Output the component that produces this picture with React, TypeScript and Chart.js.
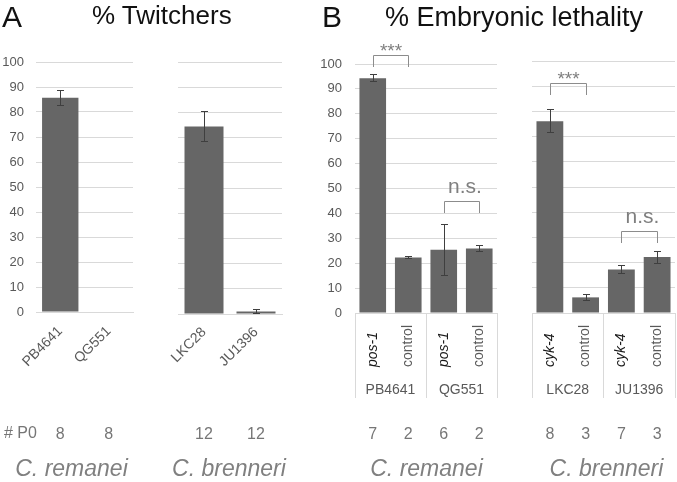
import React, { useEffect, useRef } from 'react';
import { Chart, registerables } from 'chart.js';

Chart.register(...registerables);

// ---------- data ----------
const twitchStrainsRemanei = ['PB4641', 'QG551'];
const twitchValuesRemanei = [85.7, 0];
const twitchErrorsRemanei = [3.3, 0];
const twitchP0Remanei = [8, 8];

const twitchStrainsBrenneri = ['LKC28', 'JU1396'];
const twitchValuesBrenneri = [74.4, 1.0];
const twitchErrorsBrenneri = [6.2, 1.0];
const twitchP0Brenneri = [12, 12];

const lethalTreatmentsRemanei = ['pos-1', 'control', 'pos-1', 'control'];
const lethalStrainsRemanei = ['PB4641', 'QG551'];
const lethalValuesRemanei = [94.3, 22.3, 25.4, 25.9];
const lethalErrorsRemanei = [1.7, 0.7, 10.4, 1.3];
const lethalP0Remanei = [7, 2, 6, 2];

const lethalTreatmentsBrenneri = ['cyk-4', 'control', 'cyk-4', 'control'];
const lethalStrainsBrenneri = ['LKC28', 'JU1396'];
const lethalValuesBrenneri = [76.1, 6.2, 17.3, 22.2];
const lethalErrorsBrenneri = [4.8, 1.4, 1.8, 2.6];
const lethalP0Brenneri = [8, 3, 7, 3];

const yMin = 0;
const yMax = 100;
const yStep = 10;

// significance annotations: bar indices, label, bracket level (in % units)
const sigRemanei = [
  { from: 0, to: 1, label: '***', level: 103.8 },
  { from: 2, to: 3, label: 'n.s.', level: 44.9 },
];
const sigBrenneri = [
  { from: 0, to: 1, label: '***', level: 91.3 },
  { from: 2, to: 3, label: 'n.s.', level: 32.5 },
];

// ---------- styles ----------
const FONT = "'Liberation Sans', Arial, Helvetica, sans-serif";
const BAR = '#666666';
const GRID = '#d9d9d9';
const TICK = '#595959';
const NOTE = '#767676';
const ERR = '#3f3f3f';
const H = 482;

type Sig = { from: number; to: number; label: string; level: number };
interface PanelSpec {
  left: number;
  width: number;
  padding: { left: number; right: number; top: number; bottom: number };
  yWidth: number;
  showYLabels: boolean;
  yPad: number;
  xHeight: number;
  xPad: number;
  labels: string[];
  values: number[];
  errors: number[];
  counts: number[];
  grouped: boolean;
  strains?: string[];
  sig?: Sig[];
}

const panels: PanelSpec[] = [
  {
    left: 0, width: 140, padding: { left: 0, right: 7, top: 62, bottom: 0 },
    yWidth: 36, showYLabels: true, yPad: 12, xHeight: 170, xPad: 11,
    labels: twitchStrainsRemanei, values: twitchValuesRemanei, errors: twitchErrorsRemanei,
    counts: twitchP0Remanei, grouped: false,
  },
  {
    left: 140, width: 150, padding: { left: 38, right: 8, top: 62, bottom: 0 },
    yWidth: 0, showYLabels: false, yPad: 12, xHeight: 168, xPad: 10,
    labels: twitchStrainsBrenneri, values: twitchValuesBrenneri, errors: twitchErrorsBrenneri,
    counts: twitchP0Brenneri, grouped: false,
  },
  {
    left: 290, width: 215, padding: { left: 0, right: 8, top: 64, bottom: 0 },
    yWidth: 65, showYLabels: true, yPad: 13, xHeight: 169, xPad: 0,
    labels: lethalTreatmentsRemanei, values: lethalValuesRemanei, errors: lethalErrorsRemanei,
    counts: lethalP0Remanei, grouped: true, strains: lethalStrainsRemanei, sig: sigRemanei,
  },
  {
    left: 505, width: 172, padding: { left: 27, right: 2, top: 61, bottom: 0 },
    yWidth: 0, showYLabels: false, yPad: 12, xHeight: 169, xPad: 0,
    labels: lethalTreatmentsBrenneri, values: lethalValuesBrenneri, errors: lethalErrorsBrenneri,
    counts: lethalP0Brenneri, grouped: true, strains: lethalStrainsBrenneri, sig: sigBrenneri,
  },
];

function BarPanel({ spec }: { spec: PanelSpec }) {
  const ref = useRef<HTMLCanvasElement>(null);
  useEffect(() => {
    const canvas = ref.current;
    if (!canvas) return;

    const annot = {
      id: 'annot',
      afterDatasetsDraw(chart: any) {
        const ctx = chart.ctx;
        const meta = chart.getDatasetMeta(0);
        const y = chart.scales.y;
        ctx.save();
        ctx.strokeStyle = ERR;
        ctx.lineWidth = 1;
        meta.data.forEach((el: any, i: number) => {
          const e = spec.errors[i];
          if (!e) return;
          const x = Math.round(el.x) + 0.5;
          const yt = Math.round(y.getPixelForValue(spec.values[i] + e)) + 0.5;
          const yb = Math.round(y.getPixelForValue(Math.max(0, spec.values[i] - e))) - 0.5;
          ctx.beginPath();
          ctx.moveTo(x, yt); ctx.lineTo(x, yb);
          ctx.moveTo(x - 3.5, yt); ctx.lineTo(x + 3.5, yt);
          ctx.moveTo(x - 3.5, yb); ctx.lineTo(x + 3.5, yb);
          ctx.stroke();
        });
        ctx.restore();
      },
      afterDraw(chart: any) {
        const ctx = chart.ctx;
        const meta = chart.getDatasetMeta(0);
        const xs = chart.scales.x;
        const y = chart.scales.y;
        ctx.save();
        // counts of P0
        ctx.fillStyle = NOTE;
        ctx.font = `16px ${FONT}`;
        ctx.textAlign = 'center';
        ctx.textBaseline = 'alphabetic';
        meta.data.forEach((el: any, i: number) => {
          ctx.fillText(String(spec.counts[i]), el.x, 439);
        });
        if (spec.grouped) {
          // inner treatment labels, rotated, bottom aligned
          spec.labels.forEach((lab, i) => {
            const x = xs.getPixelForTick(i);
            const gene = lab !== 'control';
            ctx.save();
            ctx.translate(x, 367);
            ctx.rotate(-Math.PI / 2);
            ctx.textAlign = 'left';
            ctx.textBaseline = 'middle';
            ctx.font = `${gene ? 'italic ' : ''}14px ${FONT}`;
            ctx.fillStyle = gene ? '#1a1a1a' : TICK;
            ctx.fillText(lab, 0, 0);
            ctx.restore();
          });
          // strain group labels
          ctx.fillStyle = TICK;
          ctx.font = `14px ${FONT}`;
          ctx.textAlign = 'center';
          ctx.textBaseline = 'alphabetic';
          (spec.strains || []).forEach((s, g) => {
            const cx = (xs.getPixelForTick(2 * g) + xs.getPixelForTick(2 * g + 1)) / 2;
            ctx.fillText(s, cx, 394);
          });
        }
        // significance brackets
        (spec.sig || []).forEach((b) => {
          const x1 = Math.round(meta.data[b.from].x) + 0.5;
          const x2 = Math.round(meta.data[b.to].x) + 0.5;
          const yTop = Math.round(y.getPixelForValue(b.level)) + 0.5;
          const yLeg = yTop + 11.5;
          ctx.strokeStyle = '#8c8c8c';
          ctx.lineWidth = 1;
          ctx.beginPath();
          ctx.moveTo(x1, yLeg); ctx.lineTo(x1, yTop); ctx.lineTo(x2, yTop); ctx.lineTo(x2, yLeg);
          ctx.stroke();
          ctx.fillStyle = '#7f7f7f';
          ctx.textAlign = 'center';
          ctx.textBaseline = 'alphabetic';
          if (b.label === '***') {
            ctx.font = `19px ${FONT}`;
            ctx.fillText(b.label, (x1 + x2) / 2, yTop + 1);
          } else {
            ctx.font = `21px ${FONT}`;
            ctx.fillText(b.label, (x1 + x2) / 2 + 3, yTop - 9);
          }
        });
        ctx.restore();
      },
    };

    const xScale: any = spec.grouped
      ? {
          type: 'category',
          offset: true,
          grid: {
            display: true,
            offset: true,
            drawOnChartArea: false,
            drawTicks: true,
            tickLength: 85,
            color: (c: any) => (c.index === 1 || c.index === 3 ? 'rgba(0,0,0,0)' : GRID),
            tickColor: (c: any) => (c.index === 1 || c.index === 3 ? 'rgba(0,0,0,0)' : GRID),
          },
          border: { display: true, color: GRID },
          ticks: { display: false },
          afterFit: (s: any) => { s.height = spec.xHeight; },
        }
      : {
          type: 'category',
          offset: true,
          grid: { display: false, drawTicks: false },
          border: { display: true, color: GRID },
          ticks: {
            autoSkip: false,
            minRotation: 45,
            maxRotation: 45,
            padding: spec.xPad,
            color: TICK,
            font: { family: FONT, size: 14 },
          },
          afterFit: (s: any) => { s.height = spec.xHeight; },
        };

    const chart = new Chart(canvas, {
      type: 'bar',
      data: {
        labels: spec.labels,
        datasets: [
          {
            data: spec.values,
            backgroundColor: BAR,
            borderWidth: 0,
            barPercentage: 0.75,
            categoryPercentage: 1,
          },
        ],
      },
      options: {
        animation: false,
        responsive: false,
        devicePixelRatio: 1,
        layout: { padding: spec.padding },
        plugins: { legend: { display: false }, tooltip: { enabled: false } },
        scales: {
          x: xScale,
          y: {
            min: yMin,
            max: yMax,
            ticks: {
              stepSize: yStep,
              display: spec.showYLabels,
              color: TICK,
              padding: spec.yPad,
              font: { family: FONT, size: 13 },
            },
            grid: { color: GRID, drawTicks: false },
            border: { display: false },
            afterFit: (s: any) => { s.width = spec.yWidth; },
          },
        },
      },
      plugins: [annot],
    } as any);
    return () => chart.destroy();
  }, [spec]);

  return (
    <canvas
      ref={ref}
      width={spec.width}
      height={H}
      style={{ position: 'absolute', left: spec.left, top: 0, width: spec.width, height: H }}
    />
  );
}

function Txt({ x, base, size, children, color = '#111', italic = false, center = false }: any) {
  return (
    <div
      style={{
        position: 'absolute',
        left: x,
        top: base - 0.8465 * size,
        fontFamily: FONT,
        fontSize: size,
        lineHeight: 1,
        color,
        fontStyle: italic ? 'italic' : 'normal',
        whiteSpace: 'nowrap',
        transform: center ? 'translateX(-50%)' : undefined,
      }}
    >
      {children}
    </div>
  );
}

export default function App() {
  return (
    <div style={{ position: 'absolute', left: 0, top: 0, width: 677, height: H, background: '#fff', overflow: 'hidden' }}>
      {panels.map((p, i) => (
        <BarPanel key={i} spec={p} />
      ))}
      <Txt x={2} base={27} size={30}>A</Txt>
      <Txt x={92} base={24} size={26}>% Twitchers</Txt>
      <Txt x={322} base={27} size={30}>B</Txt>
      <Txt x={385} base={26.7} size={27}>% Embryonic lethality</Txt>
      <Txt x={4} base={439} size={16} color={NOTE}># P0</Txt>
      <Txt x={71.5} base={476} size={23} color="#808080" italic center>C. remanei</Txt>
      <Txt x={229} base={476} size={23} color="#808080" italic center>C. brenneri</Txt>
      <Txt x={426.5} base={476} size={23} color="#808080" italic center>C. remanei</Txt>
      <Txt x={606.5} base={476} size={23} color="#808080" italic center>C. brenneri</Txt>
    </div>
  );
}
